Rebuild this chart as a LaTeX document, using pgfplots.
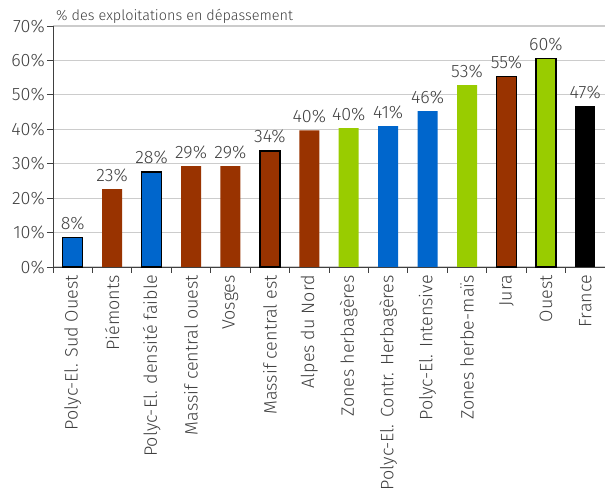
\documentclass[border=0pt]{standalone}
\usepackage{pgfplots}
\pgfplotsset{compat=1.18}
\usepackage{fontspec}
\setmainfont{Fira Sans}[UprightFont=* Light]
\definecolor{bleu}{HTML}{0066CC}
\definecolor{brun}{HTML}{993300}
\definecolor{vert}{HTML}{99CC00}
\definecolor{texte}{HTML}{404040}
\definecolor{grille}{HTML}{CCCCCC}

\pgfplotsset{
  barre/.style={fill=#1, draw=none},
  barre cadre/.style={fill=#1, draw=black, line width=1.3pt},
}

\begin{document}
\begin{tikzpicture}[font=\fontsize{18}{21}\selectfont, text=texte]
\begin{axis}[
  name=ax,
  scale only axis, width=552bp, height=241bp,
  clip=false,
  ymin=0, ymax=70, ytick={0,10,...,70},
  yticklabel={\pgfmathprintnumber{\tick}\%},
  /pgf/number format/assume math mode=true,
  xmin=-0.5, xmax=13.5,
  xtick={0,...,13},
  xticklabels={Polyc-El. Sud Ouest, Piémonts, Polyc-El. densité faible,
    Massif central ouest, Vosges, Massif central est, Alpes du Nord,
    Zones herbagères, Polyc-El. Contr. Herbagères, Polyc-El. Intensive,
    Zones herbe-maïs, Jura, Ouest, France},
  x tick label style={rotate=90, anchor=east, inner sep=2bp},
  y tick label style={inner sep=2bp},
  minor xtick={-0.5,0.5,...,12.5},
  major x tick style={draw=none},
  minor x tick style={texte, line width=0.8pt},
  major y tick style={texte, line width=0.8pt},
  tick align=outside,
  major tick length=6bp, minor tick length=6bp,
  axis x line*=bottom, axis y line*=left,
  axis line style={texte, line width=0.8pt, -},
  ymajorgrids, grid style={grille, line width=1.2pt},
  ybar, bar width=20bp, bar shift=0pt,
  nodes near coords, point meta=explicit symbolic,
  every node near coord/.style={text=texte, font=\fontsize{18}{21}\selectfont, anchor=south, yshift=4bp},
]
% bleu avec cadre
\addplot[barre cadre=bleu] coordinates {(0,8.5) [8\%] (2,27.6) [28\%]};
% bleu
\addplot[barre=bleu] coordinates {(8,40.9) [41\%] (9,45.3) [46\%]};
% brun
\addplot[barre=brun] coordinates {(1,22.6) [23\%] (3,29.3) [29\%] (4,29.3) [29\%] (6,39.7) [40\%]};
% brun avec cadre
\addplot[barre cadre=brun] coordinates {(5,33.7) [34\%] (11,55.3) [55\%]};
% vert
\addplot[barre=vert] coordinates {(7,40.3) [40\%] (10,52.8) [53\%]};
% vert avec cadre
\addplot[barre cadre=vert] coordinates {(12,60.5) [60\%]};
% France
\addplot[barre=black] coordinates {(13,46.7) [47\%]};

\node[anchor=south west, inner sep=1bp, xshift=2bp, yshift=1bp,
  font=\fontsize{14.5}{17}\selectfont] at (rel axis cs:0,1) {\% des exploitations en dépassement};
\end{axis}
\pgfresetboundingbox
\path ([shift={(-53bp,-223bp)}]ax.south west) rectangle ([yshift=26bp]ax.north east);
\end{tikzpicture}
\end{document}
